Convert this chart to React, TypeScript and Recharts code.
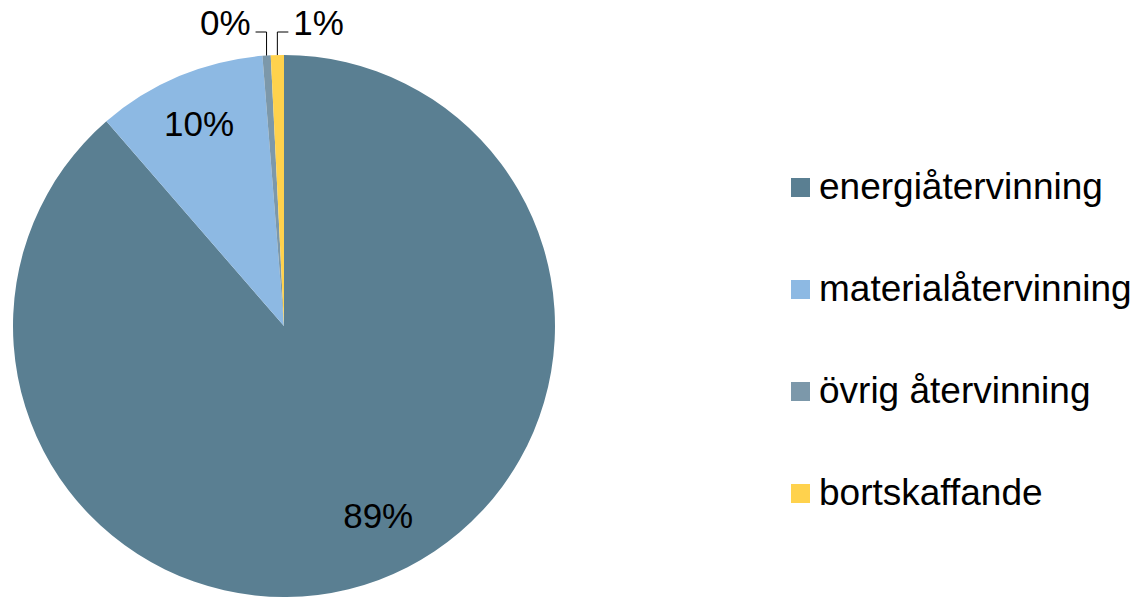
import React from 'react';
import { PieChart, Pie, Cell, Legend } from 'recharts';

const categories = ['energiåtervinning', 'materialåtervinning', 'övrig återvinning', 'bortskaffande'];
const shares = [88.6, 10.1, 0.49, 0.78];
const colors = ['#5A7F92', '#8DB9E3', '#7C98AA', '#FFD24D'];

const data = categories.map((name, i) => ({ name, value: shares[i] }));

const FONT = '"Liberation Sans", Arial, sans-serif';
const RAD = Math.PI / 180;

const renderLabel = (props: any) => {
  const { cx, cy, midAngle, outerRadius, percent, index } = props;
  const text = `${Math.round(percent * 100)}%`;
  if (index >= 2) {
    // small slices: label outside with an elbow leader line
    const sx = cx + outerRadius * Math.cos(-midAngle * RAD);
    const sy = cy + outerRadius * Math.sin(-midAngle * RAD);
    const ey = cy - outerRadius - 23;
    const dir = index === 2 ? -1 : 1;
    const ex = sx + dir * 11;
    return (
      <g key={`lbl-${index}`}>
        <polyline points={`${sx},${sy} ${sx},${ey} ${ex},${ey}`} fill="none" stroke="#000" strokeWidth={1} />
        <text x={ex + dir * 5} y={ey + 3} textAnchor={dir < 0 ? 'end' : 'start'} fill="#000" fontSize={35} fontFamily={FONT}>
          {text}
        </text>
      </g>
    );
  }
  // the big slice's label sits a little further round, as in the original
  const ang = index === 0 ? midAngle + 6 : midAngle;
  const r = outerRadius * (index === 0 ? 0.78 : 0.81);
  const x = cx + r * Math.cos(-ang * RAD);
  const y = cy + r * Math.sin(-ang * RAD);
  return (
    <text key={`lbl-${index}`} x={x} y={y} textAnchor="middle" dominantBaseline="central" fill="#000" fontSize={35} fontFamily={FONT}>
      {text}
    </text>
  );
};

const renderLegend = () => (
  <div style={{ fontFamily: FONT, fontSize: 37, color: '#000' }}>
    {categories.map((c, i) => (
      <div key={c} style={{ display: 'flex', alignItems: 'center', height: 102 }}>
        <span style={{ width: 19, height: 19, background: colors[i], display: 'inline-block', marginRight: 9 }} />
        <span>{c}</span>
      </div>
    ))}
  </div>
);

export default function App() {
  return (
    <div style={{ position: 'absolute', left: 0, top: 0, width: 1139, height: 597, background: '#fff' }}>
      <PieChart width={1139} height={597} margin={{ top: 0, right: 0, bottom: 0, left: 0 }}>
        <Pie
          data={data}
          dataKey="value"
          nameKey="name"
          cx={284}
          cy={326}
          outerRadius={271}
          startAngle={90}
          endAngle={-270}
          stroke="none"
          label={renderLabel}
          labelLine={false}
          isAnimationActive={false}
        >
          {data.map((d, i) => (
            <Cell key={`cell-${i}`} fill={colors[i]} />
          ))}
        </Pie>
        <Legend content={renderLegend} wrapperStyle={{ position: 'absolute', left: 791, top: 136, width: 348 }} />
      </PieChart>
    </div>
  );
}
